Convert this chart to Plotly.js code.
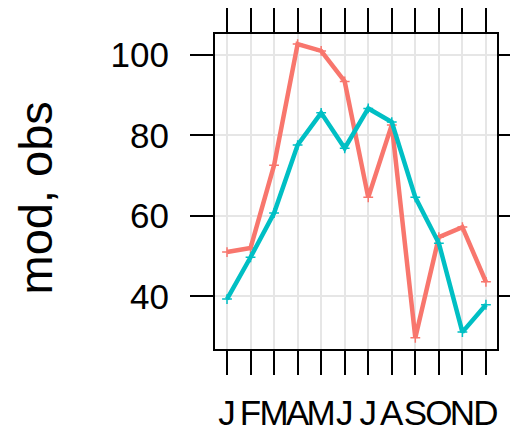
<!DOCTYPE html>
<html><head><meta charset="utf-8">
<script src="https://cdn.plot.ly/plotly-3.0.1.min.js"></script>
<style>html,body{margin:0;padding:0;background:#fff}#c{width:510px;height:429px}</style>
</head><body><div id="c"></div>
<script>
const months = [1,2,3,4,5,6,7,8,9,10,11,12];
const monthLabels = ["J","F","M","A","M","J","J","A","S","O","N","D"];
const obs = [51, 52, 72.6, 102.7, 101, 93.4, 64.6, 82.6, 29.7, 54.7, 57.2, 43.6];
const mod = [39.3, 49.7, 60.7, 77.6, 85.6, 76.8, 86.7, 83.3, 64.6, 53.2, 31.1, 37.9];
const yTicks = [40, 60, 80, 100];
const yTitle = 'mod, obs';

const mk = (y, color) => ({
  x: months, y: y, type: 'scatter', mode: 'lines+markers',
  line: {color: color, width: 4.5},
  marker: {symbol: 'cross-thin', size: 7, line: {color: color, width: 1.5}},
  hoverinfo: 'skip', showlegend: false
});

const data = [mk(obs, '#F8766D'), mk(mod, '#00BFC4')];
const layout = {
  width: 510, height: 429,
  margin: {l: 215, r: 13, t: 34, b: 80, pad: 0},
  paper_bgcolor: '#fff', plot_bgcolor: '#fff',
  font: {family: 'Liberation Sans, Arial, sans-serif', color: '#000'},
  xaxis: {
    range: [0.49, 12.47], tickmode: 'array', tickvals: months, ticktext: monthLabels,
    tickangle: 0, ticks: 'outside', ticklen: 24, tickwidth: 2, tickcolor: '#000',
    showline: true, linecolor: '#000', linewidth: 2, mirror: 'ticks',
    showgrid: true, gridcolor: '#e6e6e6', gridwidth: 2, zeroline: false,
    tickfont: {size: 35}, ticklabelstandoff: 8
  },
  yaxis: {
    range: [26.9, 105.2], tickmode: 'array', tickvals: yTicks,
    ticks: 'outside', ticklen: 23, tickwidth: 2, tickcolor: '#000',
    showline: true, linecolor: '#000', linewidth: 2, mirror: 'ticks',
    showgrid: true, gridcolor: '#e6e6e6', gridwidth: 2, zeroline: false,
    tickfont: {size: 35}, ticklabelstandoff: 14
  },
  annotations: [{
    text: yTitle, textangle: -90, showarrow: false,
    xref: 'paper', yref: 'paper', x: (35 - 215) / 282, y: 1 - (198.5 - 34) / 315,
    xanchor: 'center', yanchor: 'middle', font: {size: 47}
  }]
};
Plotly.newPlot('c', data, layout, {staticPlot: true});
</script></body></html>
